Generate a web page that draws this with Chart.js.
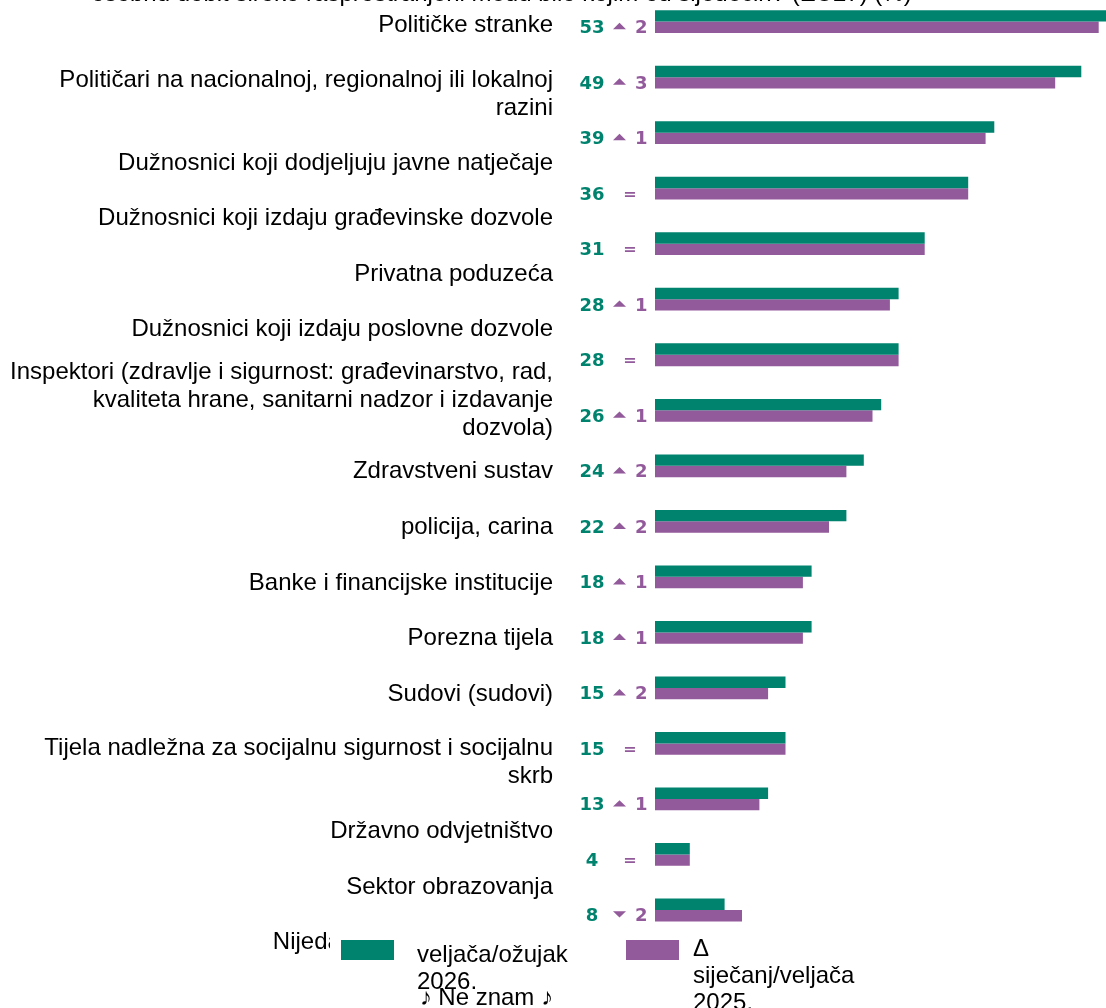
<!DOCTYPE html>
<html lang="hr">
<head>
<meta charset="utf-8">
<title>Korupcija – EU27</title>
<script src="https://cdn.jsdelivr.net/npm/chart.js@4.4.1/dist/chart.umd.min.js"></script>
<style>
  html, body {
    margin: 0;
    padding: 0;
    background: #fff;
    overflow: hidden;
    width: 1106px;
    height: 1008px;
    position: relative;
    font-family: "Liberation Sans", Arial, sans-serif;
  }
  #wrap {
    position: absolute;
    left: 0;
    top: -59px;
    width: 1106px;
    height: 1067px;
  }
  #legend {
    position: absolute;
    left: 330px;
    top: 926px;
    width: 540px;
    height: 36px;
    background: #fff;
    box-sizing: border-box;
    padding: 14px 0 0 11px;
    display: flex;
    align-items: flex-start;
    font-size: 24px;
    color: #000;
  }
  .lg-item {
    display: flex;
    align-items: flex-start;
  }
  .lg-box {
    flex: none;
    width: 53px;
    height: 19.5px;
  }
  .lg-text {
    width: 170px;
    line-height: 27px;
  }
  .lg-item:nth-child(1) .lg-text {
    margin-left: 23px;
    margin-right: 39px;
  }
  .lg-item:nth-child(2) .lg-text {
    margin-left: 14px;
    margin-top: -6px;
  }
</style>
</head>
<body>
<div id="wrap"><canvas id="chart"></canvas></div>
<div id="legend"></div>

<script>
// Categories (some are wrapped onto several lines like in the source)
const categories = [
  "Političke stranke",
  ["Političari na nacionalnoj, regionalnoj ili lokalnoj", "razini"],
  "Dužnosnici koji dodjeljuju javne natječaje",
  "Dužnosnici koji izdaju građevinske dozvole",
  "Privatna poduzeća",
  "Dužnosnici koji izdaju poslovne dozvole",
  ["Inspektori (zdravlje i sigurnost: građevinarstvo, rad,", "kvaliteta hrane, sanitarni nadzor i izdavanje", "dozvola)"],
  "Zdravstveni sustav",
  "policija, carina",
  "Banke i financijske institucije",
  "Porezna tijela",
  "Sudovi (sudovi)",
  ["Tijela nadležna za socijalnu sigurnost i socijalnu", "skrb"],
  "Državno odvjetništvo",
  "Sektor obrazovanja",
  "Nijedan od njih (spontano)",
  "♪ Ne znam ♪"
];

// Series values (%)
const current = [53, 49, 39, 36, 31, 28, 28, 26, 24, 22, 18, 18, 15, 15, 13, 4, 8];
const previous = [51, 46, 38, 36, 31, 27, 28, 25, 22, 20, 17, 17, 13, 15, 12, 4, 10];

const seriesLabels = ["veljača/ožujak 2026.", "Δ siječanj/veljača 2025."];

const titleLines = [
  "Koliko su, prema vašem mišljenju, davanje i primanje mita te zlouporaba ovlasti za",
  "osobnu dobit široko rasprostranjeni među bilo kojim od sljedećih? (EU27) (%)"
];

const GREEN = "#00836e";
const PURPLE = "#935a9b";

Chart.defaults.font.family = '"Liberation Sans", Arial, sans-serif';
Chart.defaults.color = "#000";

// label rows: a wrapped label takes a bit more room than a one-line label
const slotRows = { 1: 1, 2: 1.477, 3: 1.56 };
function labelRows() {
  const rows = [];
  let pos = 0.072;
  categories.forEach((c, i) => {
    const lines = Array.isArray(c) ? c.length : 1;
    if (i > 0) {
      const prev = Array.isArray(categories[i - 1]) ? categories[i - 1].length : 1;
      pos += (slotRows[prev] + slotRows[lines]) / 2;
    }
    rows.push(pos);
  });
  return rows;
}

// value + change written left of the bars
const valueLabels = {
  id: "valueLabels",
  afterDatasetsDraw(chart) {
    const { ctx, chartArea } = chart;
    const meta = chart.getDatasetMeta(1);
    ctx.save();
    meta.data.forEach((bar, i) => {
      const base = bar.y + bar.height / 2;
      const diff = current[i] - previous[i];

      ctx.font = 'bold 18px "DejaVu Sans"';
      ctx.textBaseline = "alphabetic";
      ctx.textAlign = "center";
      ctx.fillStyle = GREEN;
      ctx.fillText(String(current[i]), chartArea.left - 63, base);

      ctx.fillStyle = PURPLE;
      if (diff === 0) {
        ctx.font = 'bold 16px "DejaVu Sans"';
        ctx.fillText("=", chartArea.left - 25, base - 1);
        return;
      }
      const cx = chartArea.left - 35.5;
      const mid = base - 7;
      const dir = diff > 0 ? 1 : -1;
      ctx.beginPath();
      ctx.moveTo(cx - 6.5, mid + 3.2 * dir);
      ctx.lineTo(cx + 6.5, mid + 3.2 * dir);
      ctx.lineTo(cx, mid - 3.2 * dir);
      ctx.closePath();
      ctx.fill();
      ctx.textAlign = "left";
      ctx.fillText(String(Math.abs(diff)), chartArea.left - 20, base);
    });
    ctx.restore();
  }
};

const ctx = document.getElementById("chart").getContext("2d");
const chart = new Chart(ctx, {
  type: "bar",
  data: {
    labels: categories,
    datasets: [
      {
        label: seriesLabels[0],
        data: current,
        backgroundColor: GREEN,
        clip: false
      },
      {
        label: seriesLabels[1],
        data: previous,
        backgroundColor: PURPLE,
        clip: false
      }
    ]
  },
  options: {
    indexAxis: "y",
    responsive: true,
    maintainAspectRatio: false,
    animation: false,
    categoryPercentage: 0.41,
    barPercentage: 1,
    layout: {
      padding: { top: 0, left: 0, right: 103, bottom: 98 }
    },
    plugins: {
      legend: { display: false },
      tooltip: { enabled: false },
      title: {
        display: true,
        text: titleLines,
        color: "#000",
        font: { size: 24, weight: "normal" },
        padding: { top: 10, bottom: 13 }
      }
    },
    scales: {
      x: {
        display: false,
        min: 0,
        max: 40
      },
      y: {
        display: false,
        offset: false
      },
      yl: {
        type: "linear",
        position: "left",
        reverse: true,
        offset: false,
        min: 0,
        max: 16,
        grid: { display: false, drawTicks: false, offset: false },
        border: { display: false },
        afterBuildTicks: (scale) => {
          scale.ticks = labelRows().map((v) => ({ value: v }));
        },
        afterFit: (scale) => {
          scale.width = 655;
          scale.paddingTop = 0;
          scale.paddingBottom = 0;
        },
        ticks: {
          autoSkip: false,
          padding: 102,
          color: "#000",
          font: { size: 24, lineHeight: "28px" },
          callback: (value, index) => categories[index]
        }
      }
    }
  },
  plugins: [valueLabels]
});

// html legend built from the datasets
const legendEl = document.getElementById("legend");
chart.data.datasets.forEach((ds) => {
  const item = document.createElement("div");
  item.className = "lg-item";
  const box = document.createElement("span");
  box.className = "lg-box";
  box.style.background = ds.backgroundColor;
  const text = document.createElement("span");
  text.className = "lg-text";
  text.textContent = ds.label;
  item.appendChild(box);
  item.appendChild(text);
  legendEl.appendChild(item);
});
</script>
</body>
</html>
